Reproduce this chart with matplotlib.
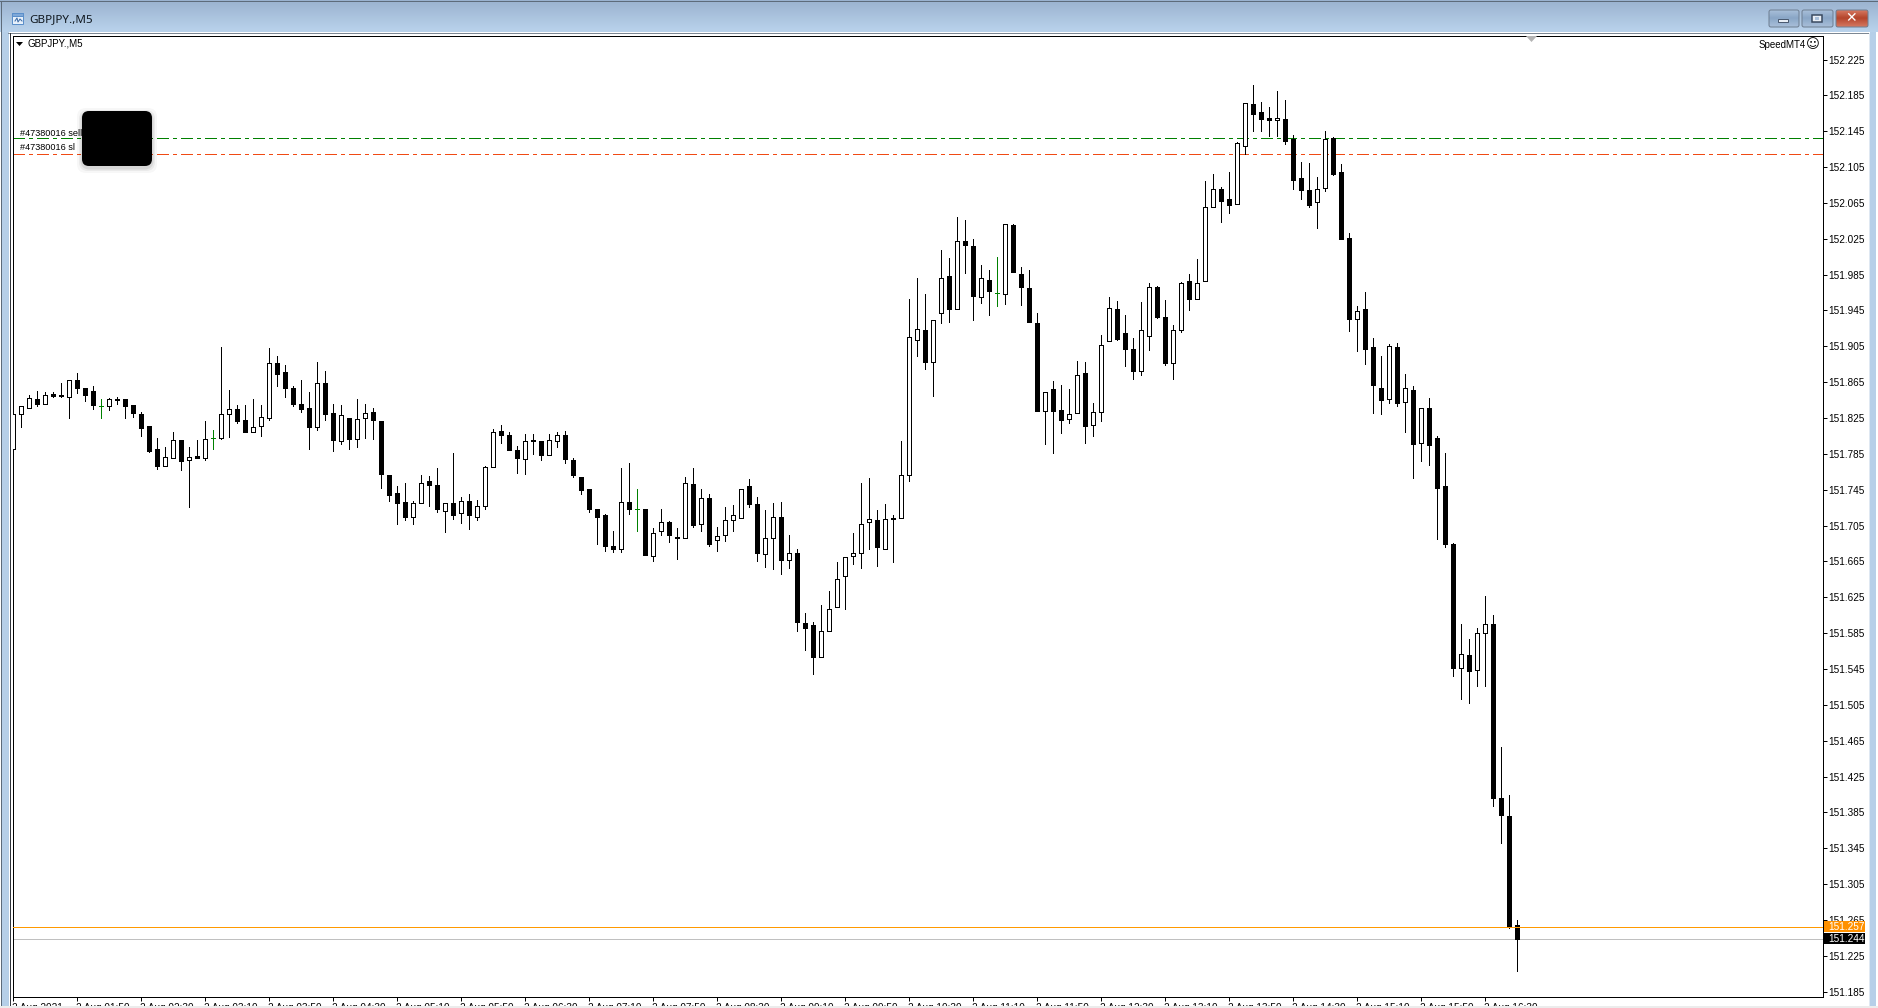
import numpy as np
import matplotlib
matplotlib.use('Agg')
import matplotlib.pyplot as plt
from matplotlib.colors import LinearSegmentedColormap
from matplotlib.patches import FancyBboxPatch, Polygon, Rectangle
from matplotlib.ticker import FixedLocator
from matplotlib.transforms import ScaledTranslation

plt.rcParams['font.family'] = ['Liberation Sans', 'DejaVu Sans']

# candles, 5 minutes each
open_p = [151.791,151.829,151.836,151.846,151.841,151.852,151.851,151.848,151.867,151.859,
          151.855,151.839,151.839,151.846,151.846,151.840,151.830,151.816,151.790,151.772,
          151.780,151.800,151.778,151.783,151.780,151.803,151.803,151.829,151.835,151.823,
          151.810,151.816,151.825,151.886,151.876,151.858,151.841,151.836,151.815,151.864,
          151.831,151.799,151.825,151.802,151.825,151.832,151.822,151.761,151.741,151.731,
          151.715,151.730,151.755,151.750,151.721,151.730,151.719,151.732,151.715,151.727,
          151.770,151.811,151.806,151.789,151.779,151.800,151.799,151.784,151.799,151.806,
          151.778,151.759,151.746,151.723,151.717,151.682,151.679,151.731,151.724,151.723,
          151.671,151.699,151.709,151.692,151.691,151.751,151.707,151.736,151.689,151.694,
          151.711,151.714,151.749,151.729,151.673,151.691,151.715,151.667,151.675,151.596,
          151.594,151.558,151.587,151.614,151.649,151.671,151.674,151.709,151.711,151.679,
          151.712,151.714,151.761,151.912,151.923,151.888,151.942,151.984,151.947,152.023,
          152.017,151.960,151.979,151.965,151.963,152.040,151.986,151.970,151.931,151.833,
          151.857,151.834,151.824,151.831,151.875,151.817,151.832,151.911,151.947,151.920,
          151.902,151.878,151.917,151.971,151.938,151.886,151.923,151.978,151.958,151.978,
          152.061,152.080,152.069,152.064,152.128,152.175,152.166,152.160,152.157,152.159,
          152.136,152.093,152.079,152.066,152.082,152.137,152.100,152.026,151.935,151.947,
          151.904,151.859,151.846,151.904,151.843,151.856,151.797,151.836,151.803,151.749,
          151.685,151.546,151.561,151.544,151.585,151.595,151.401,151.381,151.259]
high_p = [151.829,151.839,151.851,151.855,151.854,151.854,151.864,151.868,151.875,151.859,
          151.861,151.846,151.847,151.849,151.846,151.840,151.832,151.816,151.803,151.793,
          151.810,151.801,151.793,151.801,151.822,151.812,151.904,151.856,151.840,151.840,
          151.846,151.840,151.903,151.894,151.884,151.861,151.867,151.854,151.887,151.877,
          151.841,151.840,151.825,151.846,151.841,151.836,151.822,151.762,151.749,151.753,
          151.732,151.761,151.760,151.769,151.730,151.786,151.737,151.740,151.734,151.771,
          151.813,151.817,151.810,151.794,151.807,151.807,151.799,151.807,151.809,151.811,
          151.780,151.759,151.746,151.723,151.718,151.699,151.769,151.775,151.746,151.724,
          151.702,151.723,151.710,151.702,151.759,151.769,151.746,151.740,151.703,151.726,
          151.728,151.746,151.757,151.737,151.722,151.730,151.731,151.695,151.679,151.607,
          151.597,151.616,151.632,151.664,151.670,151.697,151.753,151.758,151.722,151.729,
          151.717,151.799,151.958,151.981,151.963,151.934,152.012,152.004,152.049,152.046,
          152.025,151.996,151.990,152.005,152.041,152.041,151.993,151.990,151.942,151.854,
          151.866,151.862,151.857,151.889,151.887,151.842,151.918,151.960,151.956,151.940,
          151.914,151.955,151.976,151.972,151.957,151.929,151.977,151.986,152.003,152.089,
          152.097,152.083,152.099,152.133,152.176,152.196,152.178,152.172,152.190,152.180,
          152.141,152.111,152.110,152.094,152.145,152.138,152.108,152.032,151.950,151.966,
          151.914,151.894,151.908,151.909,151.874,151.861,151.836,151.847,151.805,151.786,
          151.686,151.595,151.578,151.591,151.626,151.605,151.458,151.404,151.265]
low_p = [151.791,151.815,151.836,151.838,151.841,151.849,151.849,151.825,151.853,151.844,
         151.835,151.825,151.834,151.841,151.825,151.826,151.805,151.787,151.768,151.771,
         151.780,151.767,151.726,151.780,151.778,151.791,151.802,151.804,151.819,151.810,
         151.810,151.805,151.823,151.861,151.849,151.839,151.832,151.791,151.812,151.823,
         151.788,151.796,151.790,151.793,151.803,151.802,151.747,151.733,151.707,151.711,
         151.707,151.730,151.727,151.720,151.698,151.712,151.708,151.701,151.711,151.723,
         151.770,151.797,151.789,151.764,151.763,151.785,151.778,151.784,151.793,151.775,
         151.759,151.740,151.720,151.685,151.677,151.676,151.676,151.718,151.699,151.672,
         151.665,151.695,151.687,151.668,151.691,151.704,151.699,151.682,151.677,151.688,
         151.699,151.713,151.726,151.666,151.659,151.657,151.651,151.658,151.588,151.566,
         151.540,151.558,151.587,151.614,151.612,151.662,151.658,151.679,151.660,151.679,
         151.664,151.714,151.755,151.894,151.880,151.850,151.931,151.932,151.947,151.987,
         151.934,151.953,151.940,151.950,151.952,151.988,151.951,151.932,151.833,151.796,
         151.786,151.808,151.819,151.831,151.797,151.805,151.822,151.911,151.912,151.883,
         151.869,151.873,151.901,151.937,151.884,151.869,151.921,151.946,151.958,151.978,
         152.061,152.044,152.054,152.064,152.120,152.145,152.145,152.140,152.140,152.131,
         152.081,152.069,152.060,152.037,152.078,152.096,152.025,151.922,151.900,151.885,
         151.831,151.829,151.842,151.838,151.810,151.758,151.777,151.773,151.690,151.681,
         151.537,151.512,151.507,151.526,151.526,151.392,151.351,151.256,151.208]
close_p = [151.829,151.839,151.847,151.841,151.851,151.850,151.850,151.867,151.859,151.851,
           151.840,151.839,151.846,151.845,151.839,151.831,151.814,151.788,151.771,151.782,
           151.801,151.777,151.782,151.780,151.802,151.803,151.829,151.835,151.822,151.810,
           151.815,151.826,151.886,151.874,151.858,151.841,151.835,151.815,151.864,151.830,
           151.800,151.828,151.802,151.824,151.831,151.823,151.763,151.739,151.730,151.715,
           151.730,151.753,151.750,151.723,151.730,151.717,151.732,151.717,151.727,151.770,
           151.809,151.806,151.789,151.780,151.799,151.799,151.784,151.800,151.806,151.779,
           151.761,151.745,151.723,151.715,151.682,151.679,151.731,151.723,151.724,151.672,
           151.697,151.709,151.694,151.691,151.753,151.706,151.736,151.685,151.693,151.711,
           151.717,151.746,151.729,151.674,151.691,151.715,151.667,151.675,151.597,151.591,
           151.558,151.587,151.612,151.645,151.670,151.674,151.707,151.712,151.681,151.712,
           151.714,151.761,151.915,151.924,151.888,151.934,151.981,151.947,152.023,152.018,
           151.961,151.981,151.967,151.965,152.041,151.988,151.971,151.932,151.833,151.854,
           151.833,151.823,151.830,151.873,151.816,151.832,151.907,151.948,151.913,151.902,
           151.878,151.923,151.971,151.938,151.886,151.923,151.976,151.958,151.976,152.061,
           152.080,152.067,152.063,152.132,152.176,152.164,152.159,152.158,152.160,152.134,
           152.091,152.079,152.063,152.081,152.136,152.097,152.025,151.935,151.944,151.902,
           151.862,151.845,151.905,151.842,151.858,151.796,151.836,151.795,151.747,151.685,
           151.546,151.562,151.543,151.585,151.595,151.401,151.382,151.257,151.244]

price_ticks = [152.225,152.185,152.145,152.105,152.065,152.025,151.985,151.945,151.905,
               151.865,151.825,151.785,151.745,151.705,151.665,151.625,151.585,151.545,
               151.505,151.465,151.425,151.385,151.345,151.305,151.265,151.225,151.185]
time_labels = ['2 Aug 2021','2 Aug 01:50','2 Aug 02:30','2 Aug 03:10','2 Aug 03:50','2 Aug 04:30',
               '2 Aug 05:10','2 Aug 05:50','2 Aug 06:30','2 Aug 07:10','2 Aug 07:50','2 Aug 08:30',
               '2 Aug 09:10','2 Aug 09:50','2 Aug 10:30','2 Aug 11:10','2 Aug 11:50','2 Aug 12:30',
               '2 Aug 13:10','2 Aug 13:50','2 Aug 14:30','2 Aug 15:10','2 Aug 15:50','2 Aug 16:30']
tp_price = 152.137
sl_price = 152.120
ask_price = 151.257
bid_price = 151.244

W, H = 1878, 1008
PX = 72 / 100  # one pixel in points


def gradient(axis, x0, x1, y0, y1, top, bottom, z=1):
    cmap = LinearSegmentedColormap.from_list('g', [top, bottom])
    axis.imshow(np.linspace(0, 1, 64).reshape(-1, 1), cmap=cmap, aspect='auto',
                extent=(x0, x1, y1, y0), zorder=z, interpolation='bilinear')


def window_button(axis, x0, x1, top, bottom):
    gradient(axis, x0, x1, 10, 18, top, bottom, z=3)
    gradient(axis, x0, x1, 18, 27, bottom, top, z=3)
    axis.add_patch(FancyBboxPatch((x0, 10), x1 - x0, 17, boxstyle='round,pad=0,rounding_size=2',
                                  fc='none', ec='#6f7f92', lw=PX, zorder=4))


fig = plt.figure(figsize=(W / 100, H / 100), dpi=100, facecolor='white')

# window frame behind the chart
bg = fig.add_axes([0, 0, 1, 1], zorder=0)
bg.set_xlim(0, W)
bg.set_ylim(H, 0)
bg.axis('off')
gradient(bg, 0, W, 0, 32, '#9ab2cf', '#bad3ec')
bg.add_patch(Rectangle((2, 32), 7, H - 32, fc='#b6cfe8', ec='none', zorder=2))
bg.add_patch(Rectangle((1870, 32), 6, H - 32, fc='#b6cfe8', ec='none', zorder=2))
bg.add_patch(Rectangle((9, 32), 1861, H - 32, fc='white', ec='none', zorder=2))
bg.plot([0, W], [1, 1], color='#5d6b7a', lw=PX, zorder=3)
bg.plot([8, 1869], [32.5, 32.5], color='#7c8793', lw=PX, zorder=3)
bg.plot([9.5, 9.5], [33, H], color='#30343a', lw=PX, zorder=3)
bg.plot([1869, 1869], [33, H], color='#dfe8f2', lw=PX, zorder=3)
bg.plot([0.5, 0.5], [1, H], color='#5d6b7a', lw=PX, zorder=3)
bg.plot([1877.5, 1877.5], [1, H], color='#5d6b7a', lw=PX, zorder=3)
bg.set_xlim(0, W)
bg.set_ylim(H, 0)

# title bar
bg.add_patch(Rectangle((12, 13), 11, 11, fc='#e8f1fb', ec='#5b8fca', lw=PX, zorder=3))
bg.add_patch(Rectangle((12, 13), 11, 3, fc='#7fa8d8', ec='#5b8fca', lw=PX, zorder=3))
bg.plot([15, 17, 18, 20, 22], [21, 18, 22, 19, 21], color='#3b6aa5', lw=PX, zorder=4)
bg.text(29.5, 20, 'GBPJPY.,M5', fontsize=8.4, color='#101820', va='center', ha='left',
        family=['Noto Sans', 'DejaVu Sans'], zorder=4)
window_button(bg, 1769, 1799, '#a9c0da', '#8aa6c6')
window_button(bg, 1802, 1833, '#a9c0da', '#8aa6c6')
window_button(bg, 1836, 1868, '#d67a63', '#b5452c')
bg.add_patch(Rectangle((1778, 19), 10, 3, fc='#e8eef5', ec='#4a5a70', lw=PX, zorder=5))
bg.add_patch(Rectangle((1812, 15), 10, 7, fc='#e8eef5', ec='#38485e', lw=PX * 1.5, zorder=5))
bg.add_patch(Rectangle((1815, 17), 4, 3, fc='#a9c0da', ec='none', zorder=6))
bg.text(1851, 18.5, '\u2715', fontsize=10, color='white', fontweight='bold', ha='center', va='center',
        family='DejaVu Sans', zorder=5)

# chart area, edges sit on pixel rows and columns of the screenshot
left, right, top, bottom = 12.5, 1822.5, 35.5, 996.5
first_x = 13.0
ax = fig.add_axes([left / W, (H - bottom) / H, (right - left) / W, (bottom - top) / H],
                  zorder=1, facecolor='white')
x = np.arange(len(close_p))
o, h, l, c = map(np.array, (open_p, high_p, low_p, close_p))
ax.set_xlim((left - first_x) / 8, (right - first_x) / 8)
ax.set_ylim(152.225 - (bottom - 59.5) / 896.4, 152.225 + (59.5 - top) / 896.4)

bull = c > o
bear = c < o
doji = c == o

ax.vlines(x[~doji], l[~doji], h[~doji], color='black', lw=PX, antialiased=False, zorder=2)
ax.vlines(x[doji], l[doji], h[doji], color='#008000', lw=PX, antialiased=False, zorder=2)
ax.hlines(c[doji], x[doji] - 0.3, x[doji] + 0.3, color='#008000', lw=PX, antialiased=False, zorder=2)
ax.bar(x[bull], (c - o)[bull], bottom=o[bull], width=0.5, facecolor='white', edgecolor='black',
       lw=PX, antialiased=False, zorder=3)
ax.bar(x[bear], (o - c)[bear], bottom=c[bear], width=0.5, facecolor='black', edgecolor='black',
       lw=PX, antialiased=False, zorder=3)

ax.axhline(tp_price, color='#008000', lw=PX, linestyle=(0, (11, 5, 3, 5)), antialiased=False, zorder=1)
ax.axhline(sl_price, color='#f04a14', lw=PX, linestyle=(0, (11, 5, 3, 5)), antialiased=False, zorder=1)
ax.axhline(ask_price, color='#ff9900', lw=PX, antialiased=False, zorder=4)
ax.axhline(bid_price, color='#c0c0c0', lw=PX, antialiased=False, zorder=1)

ax.yaxis.set_major_locator(FixedLocator(price_ticks))
ax.yaxis.tick_right()
ax.set_yticklabels(['%.3f' % t for t in price_ticks], fontsize=7.2, color='black')
ax.set_xticks(x[:len(time_labels)] * 8)
ax.set_xticklabels(time_labels, fontsize=7.2, color='black', ha='left')
ax.tick_params(axis='both', length=4 * PX, width=PX, color='black', direction='out')
ax.tick_params(axis='y', pad=1.2)
ax.tick_params(axis='x', pad=1.5)
for lab in ax.get_xticklabels():
    lab.set_transform(lab.get_transform() + ScaledTranslation(-1.5 / 100, 0, fig.dpi_scale_trans))
for s in ax.spines.values():
    s.set_linewidth(PX)
    s.set_color('black')

# things on top of the chart, in screen pixels
top_ax = fig.add_axes([0, 0, 1, 1], zorder=2)
top_ax.set_xlim(0, W)
top_ax.set_ylim(H, 0)
top_ax.axis('off')
top_ax.patch.set_alpha(0)

top_ax.add_patch(Polygon([[16, 42], [23, 42], [19.5, 46]], fc='black', ec='none'))
top_ax.text(28, 43.5, 'GBPJPY.,M5', fontsize=7, va='center', ha='left', color='black')
top_ax.text(1759, 44.5, 'SpeedMT4', fontsize=7, va='center', ha='left', color='black')
top_ax.text(1812.5, 45, '\u263a', fontsize=9.5, va='center', ha='center', color='black', family='DejaVu Sans')
top_ax.add_patch(Polygon([[1526, 36], [1537, 36], [1531.5, 42]], fc='#b4b4b4', ec='none'))
top_ax.text(20, 133.5, '#47380016 sell', fontsize=6.6, va='center', ha='left', color='black')
top_ax.text(20, 148, '#47380016 sl', fontsize=6.6, va='center', ha='left', color='black')

# blacked out box with a soft shadow
for grow, alpha in [(5, 0.03), (3, 0.05), (1.5, 0.08)]:
    top_ax.add_patch(FancyBboxPatch((82 - grow, 111 - grow + 2), 70 + 2 * grow, 55 + 2 * grow,
                                    boxstyle='round,pad=0,rounding_size=9', fc='black', ec='none',
                                    alpha=alpha, zorder=5))
top_ax.add_patch(FancyBboxPatch((82, 111), 70, 55, boxstyle='round,pad=0,rounding_size=7',
                                fc='black', ec='none', zorder=6))

# current price labels on the scale
top_ax.add_patch(Rectangle((1824, 921), 41, 11, fc='#ff9100', ec='none', zorder=6))
top_ax.add_patch(Rectangle((1824, 933), 41, 11, fc='black', ec='none', zorder=6))
top_ax.text(1828, 926.5, '%.3f' % ask_price, fontsize=7.2, color='white', va='center', ha='left', zorder=7)
top_ax.text(1828, 938.5, '%.3f' % bid_price, fontsize=7.2, color='white', va='center', ha='left', zorder=7)

# bottom edge cuts the time labels
top_ax.add_patch(Rectangle((0, 1006), W, 2, fc='#ececec', ec='none', zorder=8))

fig.savefig('out.png', dpi=100)
